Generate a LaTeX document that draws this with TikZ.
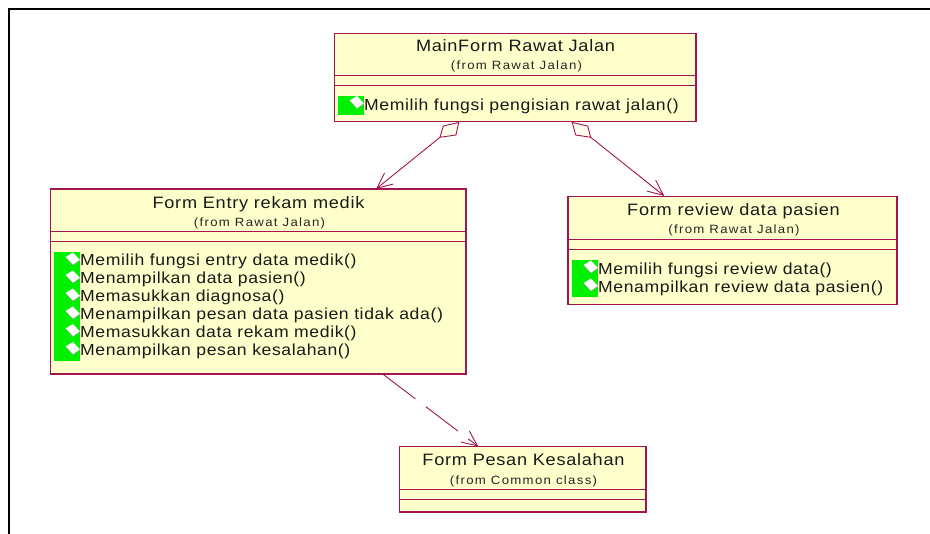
\documentclass[tikz,border=0pt]{standalone}
\usepackage{fontspec}
\setmainfont{Liberation Sans}
\usetikzlibrary{arrows.meta}
\definecolor{rosered}{HTML}{A31550}
\definecolor{roseyellow}{HTML}{FFFFCC}
\definecolor{rosegreen}{HTML}{00F000}
\newfontfamily\titlefont[LetterSpace=4.4,FakeStretch=1.1]{Liberation Sans}
\newfontfamily\subfont[LetterSpace=11,FakeStretch=1.1]{Liberation Sans}
\newfontfamily\methodfont[LetterSpace=3.8,FakeStretch=1.1]{Liberation Sans}
\tikzset{
  classbox/.style={draw=rosered,fill=roseyellow,line width=1.2pt,rectangle,inner sep=0pt,outer sep=0pt,anchor=north west},
  divider/.style={draw=rosered,line width=1pt},
  titletext/.style={anchor=base,inner sep=0pt,font=\fontsize{16.5}{18}\titlefont,text=black!90},
  subtext/.style={anchor=base,inner sep=0pt,font=\fontsize{12}{14}\subfont,text=black!85},
  methodtext/.style={anchor=base west,inner sep=0pt,font=\fontsize{16}{18}\methodfont,text=black!90},
  greenbar/.style={fill=rosegreen,draw=none,rectangle,inner sep=0pt,outer sep=0pt,anchor=north west},
  assoc/.style={draw=rosered,line width=0.9pt,-{Straight Barb[length=15.5pt,width=14pt,line width=0.9pt]}},
  dashassoc/.style={assoc,dash pattern=on 40.3pt off 13pt},
  aggr/.style={draw=rosered,line width=0.9pt,fill=roseyellow!40!white,line join=miter},
  frameline/.style={draw=black,line width=2pt},
}
\newcommand{\methodicon}[2]{%
  \fill[white] (#1-14.5,#2+4.5) -- (#1-7,#2) -- (#1,#2+7.5) -- (#1-7,#2+12.5) -- cycle;
  \draw[black!35,line width=0.5pt] (#1-14.5,#2+4.5) -- (#1-7,#2+12.5) -- (#1,#2+7.5);
}
\begin{document}
\begin{tikzpicture}[x=1pt,y=-1pt]
\useasboundingbox (0,0) rectangle (930,534);
\fill[white] (0,0) rectangle (930,534);
% page frame
\coordinate (fbl) at (8.5,534);
\coordinate (ftl) at (8.5,9);
\coordinate (ftr) at (930,9);
\draw[frameline] (fbl) -- (ftl) -- (ftr);
% class boxes
\node[classbox,minimum width=361.5pt,minimum height=88.3pt] (main) at (334.5,33.5) {};
\node[classbox,minimum width=415.5pt,minimum height=185pt] (entry) at (50.5,189) {};
\node[classbox,minimum width=329pt,minimum height=108pt] (review) at (568,196.7) {};
\node[classbox,minimum width=246.3pt,minimum height=65.3pt] (pesan) at (399.7,446.7) {};
% compartments
\foreach \b/\da/\db in {main/42.5/52.3, entry/43/52.5, review/43/52.6, pesan/42.6/52.6}{
  \draw[divider] ([yshift=-\da pt]\b.north west) -- ([yshift=-\da pt]\b.north east);
  \draw[divider] ([yshift=-\db pt]\b.north west) -- ([yshift=-\db pt]\b.north east);
}
% titles
\node[titletext] (tmain) at (515.5,52) {MainForm Rawat Jalan};
\node[subtext] (smain) at (516.5,70) {(from Rawat Jalan)};
\node[titletext] (tentry) at (258.5,208.3) {Form Entry rekam medik};
\node[subtext] (sentry) at (259.5,226.7) {(from Rawat Jalan)};
\node[titletext] (treview) at (733.5,216) {Form review data pasien};
\node[subtext] (sreview) at (734,234) {(from Rawat Jalan)};
\node[titletext] (tpesan) at (523.5,466) {Form Pesan Kesalahan};
\node[subtext] (spesan) at (523.5,484.3) {(from Common class)};
% method icons
\node[greenbar,minimum width=26pt,minimum height=19pt] (gmain) at (338,96) {};
\node[greenbar,minimum width=26pt,minimum height=109pt] (gentry) at (54,252) {};
\node[greenbar,minimum width=26pt,minimum height=36.7pt] (greview) at (572,260) {};
\methodicon{364}{96}
\foreach \yy in {252.5,270.5,288.5,306.5,324,342}{\methodicon{80}{\yy}}
\methodicon{598}{260.5}
\methodicon{598}{278.5}
% methods
\node[methodtext] (m1) at (364,110.7) {Memilih fungsi pengisian rawat jalan()};
\node[methodtext] (e1) at (80,266) {Memilih fungsi entry data medik()};
\node[methodtext] (e2) at (80,284) {Menampilkan data pasien()};
\node[methodtext] (e3) at (80,302) {Memasukkan diagnosa()};
\node[methodtext] (e4) at (80,320) {Menampilkan pesan data pasien tidak ada()};
\node[methodtext] (e5) at (80,337.5) {Memasukkan data rekam medik()};
\node[methodtext] (e6) at (80,355.5) {Menampilkan pesan kesalahan()};
\node[methodtext] (r1) at (598,274.3) {Memilih fungsi review data()};
\node[methodtext] (r2) at (598,292.5) {Menampilkan review data pasien()};
% connector ends
\coordinate (a1) at (458.7,122.5);
\coordinate (a2) at (443.3,126);
\coordinate (a3) at (440,137.3);
\coordinate (a4) at (456,135);
\coordinate (b1) at (572.3,122.5);
\coordinate (b2) at (587.7,126);
\coordinate (b3) at (590.7,137.3);
\coordinate (b4) at (575.7,135);
\coordinate (tipe) at (376,189);
\coordinate (tipr) at (664.3,196);
\coordinate (dstart) at (383.3,374.5);
\coordinate (tipp) at (478.3,446.5);
% connectors
\draw[aggr] (a1) -- (a2) -- (a3) -- (a4) -- cycle;
\draw[aggr] (b1) -- (b2) -- (b3) -- (b4) -- cycle;
\draw[assoc] (a3) -- (tipe);
\draw[assoc] (b3) -- (tipr);
\draw[dashassoc] (dstart) -- (tipp);
\end{tikzpicture}
\end{document}
